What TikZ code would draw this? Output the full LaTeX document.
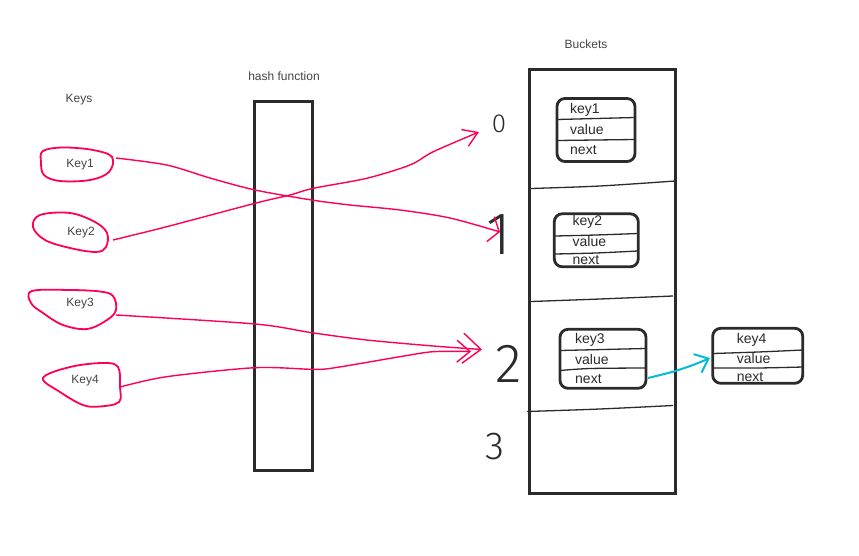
\documentclass[tikz,border=0pt]{standalone}
\usepackage{fontspec}
\setmainfont{Liberation Sans}
\newfontfamily\handfont{Fira Sans Light}
\usetikzlibrary{arrows.meta}

\definecolor{ink}{HTML}{2B2B2B}
\definecolor{softink}{HTML}{444444}
\definecolor{inkred}{HTML}{FF0055}
\definecolor{inkcyan}{HTML}{00BCD4}

\begin{document}
\begin{tikzpicture}[x=1pt,y=-1pt,
  caption/.style={font=\fontsize{12}{14}\selectfont, text=softink, inner sep=0pt},
  column/.style={draw=ink, line width=2.8pt},
  listbox/.style={draw=ink, line width=2.8pt, rounded corners=8pt, inner sep=0pt},
  divider/.style={draw=ink, line width=1.3pt},
  cell/.style={anchor=west, font=\fontsize{14}{16}\selectfont, text=ink, inner sep=0pt},
  blob/.style={draw=inkred, line width=1.8pt},
  keytext/.style={font=\fontsize{12}{14}\selectfont, text=softink, inner sep=0pt},
  digit/.style={text=ink, inner sep=0pt},
  hashline/.style={draw=inkred, line width=1.4pt},
  chainline/.style={draw=inkcyan, line width=2pt}
]
\fill[white] (0,0) rectangle (859,556);
\useasboundingbox (0,0) rectangle (859,556);

% headings
\node[caption] (keys) at (79,100) {Keys};
\node[caption] (hashtitle) at (284,76) {hash function};
\node[caption] (buckettitle) at (586,44) {Buckets};

% hash function column and bucket array
\draw[column] (254.5,101.5) rectangle (312.5,470.5);
\draw[column] (529.5,69.5) rectangle (675.5,493.5);

% bucket separators
\draw[divider] plot[smooth] coordinates {(531,188.5) (600,186) (675,181)};
\draw[divider] plot[smooth] coordinates {(531,301.5) (600,299) (673,296)};
\draw[divider] plot[smooth] coordinates {(527,411.5) (600,409) (673,405.5)};

% bucket indices
\node[digit, font=\handfont\fontsize{26}{28}\selectfont] (d0) at (499,124) {0};
\node[digit, font=\handfont\fontsize{60}{64}\selectfont] (d1) at (499,235) {1};
\node[digit, font=\handfont\fontsize{55}{58}\selectfont] (d2) at (509,364) {2};
\node[digit, font=\handfont\fontsize{39}{42}\selectfont] (d3) at (495,447) {3};

% keys
\draw[blob] plot[smooth cycle, tension=0.6] coordinates {(43,151) (63,147.5) (93,150) (112,157) (109,172) (90,180) (60,181) (44,175) (41,162)};
\draw[blob] plot[smooth cycle, tension=0.6] coordinates {(40,215) (70,213) (95,222) (107,233) (106,247) (96,252) (70,248) (45,240) (33,227)};
\draw[blob] plot[smooth cycle, tension=0.6] coordinates {(32,291) (70,290) (100,291.5) (113,296) (116,310) (107,320) (87,329) (63,325) (43,313) (31,303)};
\draw[blob] plot[smooth cycle, tension=0.6] coordinates {(43,378) (70,367) (103,363) (118,367) (120,387) (119,402) (100,406.5) (83,405) (60,392)};
\node[keytext] (k1) at (80,165) {Key1};
\node[keytext] (k2) at (81,233) {Key2};
\node[keytext] (k3) at (80,304) {Key3};
\node[keytext] (k4) at (85,381) {Key4};

% list entries
\node[listbox, minimum width=78pt, minimum height=63pt] (n1) at (596,130) {};
\draw[divider] plot[smooth] coordinates {(557,119.5) (596,118.5) (635,117.5)};
\draw[divider] plot[smooth] coordinates {(557,140.5) (596,140) (635,139.5)};
\node[cell] (n1k) at (570,110) {key1};
\node[cell] (n1v) at (570,129) {value};
\node[cell] (n1n) at (570,150) {next};

\node[listbox, minimum width=84pt, minimum height=53pt] (n2) at (596.3,240.3) {};
\draw[divider] plot[smooth] coordinates {(555,236) (596,235) (638,233.5)};
\draw[divider] plot[smooth] coordinates {(555,254) (596,253) (638,251)};
\node[cell] (n2k) at (572.5,221.5) {key2};
\node[cell] (n2v) at (572.5,241) {value};
\node[cell] (n2n) at (572.5,260.5) {next};

\node[listbox, minimum width=86pt, minimum height=59pt] (n3) at (603,358.8) {};
\draw[divider] plot[smooth] coordinates {(560,350.5) (603,349.5) (646,348.5)};
\draw[divider] plot[smooth] coordinates {(560,370.5) (590,368.5) (646,368)};
\node[cell] (n3k) at (575,340) {key3};
\node[cell] (n3v) at (575,359.3) {value};
\node[cell] (n3n) at (575,379.3) {next};

\node[listbox, minimum width=90pt, minimum height=55pt] (n4) at (757.7,355.8) {};
\draw[divider] plot[smooth] coordinates {(713,353.5) (758,352) (803,350)};
\draw[divider] plot[smooth] coordinates {(713,368) (758,368) (803,367)};
\node[cell] (n4k) at (736.7,340) {key4};
\node[cell] (n4v) at (736.7,358.3) {value};
\node[cell] (n4n) at (736.7,377.3) {next};

% hashing arrows
\coordinate (k1out) at (116,158);
\coordinate (k2out) at (113,240);
\coordinate (k3out) at (116,315);
\coordinate (k4out) at (120,387);
\coordinate (to0) at (479,132);
\coordinate (to1) at (500,232);
\coordinate (to2a) at (482,349.5);
\coordinate (to2b) at (471,351.5);

\draw[hashline, -{Straight Barb[length=9pt,width=26pt]}] plot[smooth, tension=0.5] coordinates {(k1out) (166.7,165) (210,178) (255,190) (311.7,200) (350,205) (400,210) (450,218) (to1)};
\draw[hashline, -{Straight Barb[length=14pt,width=18pt]}] plot[smooth, tension=0.5] coordinates {(k2out) (166.7,226.7) (255,203.3) (290,195) (313.3,188.3) (366.7,178.3) (410,165) (433.3,151.7) (to0)};
\draw[hashline, -{Straight Barb[length=18pt,width=30pt]}] plot[smooth, tension=0.5] coordinates {(k3out) (255,324) (311.7,332.7) (366.7,340) (433.3,346) (to2a)};
\draw[hashline, -{Straight Barb[length=13pt,width=22pt]}] plot[smooth, tension=0.5] coordinates {(k4out) (166.7,376.7) (255,367.7) (311.7,369.3) (333,368) (400,356.7) (433,351.7) (to2b)};

% chaining pointer
\coordinate (n3out) at (648,378);
\coordinate (n4in) at (710,358);
\draw[chainline, -{Straight Barb[length=12pt,width=20pt]}] plot[smooth, tension=0.5] coordinates {(n3out) (673,371.7) (693,365) (n4in)};
\end{tikzpicture}
\end{document}
